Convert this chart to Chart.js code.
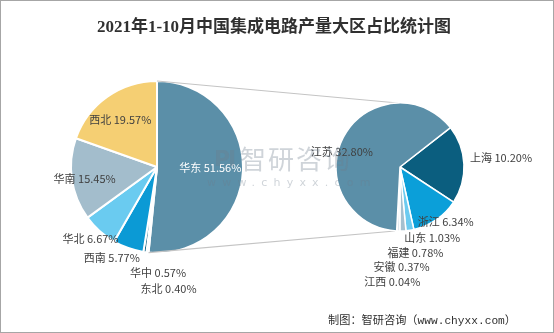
<!DOCTYPE html>
<html><head><meta charset="utf-8">
<script src="https://cdn.jsdelivr.net/npm/chart.js@4/dist/chart.umd.min.js"></script>
<style>
html,body{margin:0;padding:0;background:#fff;}
#wrap{position:relative;width:554px;height:333px;overflow:hidden;background:#fff;}
canvas{position:absolute;left:0;top:0;}
#frame{position:absolute;left:0;top:0;width:552px;height:331px;border:1px solid #a6a6a6;pointer-events:none;}
#title{position:absolute;left:0;top:12px;width:548px;text-align:center;line-height:24px;font:bold 17px "Liberation Serif","Noto Sans CJK SC";color:#303030;}
#footer{position:absolute;right:38px;top:311px;line-height:14px;font:11.2px "Liberation Mono","Noto Sans CJK SC";color:#303030;}
.wm{position:absolute;color:rgba(110,125,140,0.33);pointer-events:none;white-space:nowrap;}
</style>
</head><body>
<div id="wrap">
<canvas id="c1" width="554" height="333"></canvas>
<canvas id="c2" width="554" height="333"></canvas>
<div class="wm" style="left:214px;top:146px;font:bold 22px 'DejaVu Sans';letter-spacing:-2px;">PI</div>
<div class="wm" style="left:240px;top:144px;font:26px 'Noto Sans CJK SC';line-height:28px;letter-spacing:2px;">智研咨询</div>
<div class="wm" style="left:207px;top:176px;font:11px 'DejaVu Sans';letter-spacing:6.2px;">www.chyxx.com</div>
<div id="title">2021年1-10月中国集成电路产量大区占比统计图</div>
<div id="footer">制图：智研咨询（www.chyxx.com）</div>
<div id="frame"></div>
</div>
<script>
// ---- data ----
const leftCategories = ['华东','东北','华中','西南','华北','华南','西北'];
const leftValues = [51.56, 0.40, 0.57, 5.77, 6.67, 15.45, 19.57];
const rightCategories = ['上海','浙江','山东','福建','安徽','江西','江苏'];
const rightValues = [10.20, 6.34, 1.03, 0.78, 0.37, 0.04, 32.80];

// ---- styles ----
const leftColors = ['#5b8fa8','#a3bdcc','#0b5e7f','#0b9ad5','#6acbf0','#a3bdcc','#f5cf73'];
const rightColors = ['#0b5e7f','#0b9fd9','#6ccbf0','#a5c0cf','#dfe8ee','#f5cf73','#5b8fa8'];
// label placement: [radius factor, dx, dy]
const leftLabelPos = [[0.62,0,-2],[1.41,25,1],[1.23,16,1],[1.12,-13,0],[1.14,-1,-1],[0.85,0,1.5],[0.70,-2,2]];
const rightLabelPos = [[1.58,0,-5],[1.09,6,-3],[1.125,21,0],[1.34,11.5,0],[1.56,4,0],[1.8,-2,0],[0.9,-7,11]];
const leftLabelColors = ['#ffffff','#404040','#404040','#404040','#404040','#404040','#404040'];

function labelPlugin(cats, vals, pos, colors) {
  return {
    id: 'sliceLabels',
    afterDatasetsDraw(chart) {
      const ctx = chart.ctx;
      const meta = chart.getDatasetMeta(0);
      ctx.save();
      ctx.font = '11px "Noto Sans CJK SC", "Noto Sans", sans-serif';
      ctx.textAlign = 'center';
      ctx.textBaseline = 'middle';
      meta.data.forEach((arc, i) => {
        const p = arc.getProps(['x','y','startAngle','endAngle','outerRadius'], true);
        const mid = (p.startAngle + p.endAngle) / 2;
        const d = p.outerRadius * pos[i][0];
        const x = p.x + Math.cos(mid) * d + pos[i][1];
        const y = p.y + Math.sin(mid) * d + pos[i][2];
        ctx.fillStyle = colors ? colors[i] : '#404040';
        ctx.fillText(cats[i] + ' ' + vals[i].toFixed(2) + '%', x, y);
      });
      ctx.restore();
    }
  };
}

const baseOpts = {
  responsive: false,
  animation: false,
  events: [],
  plugins: { legend: { display: false }, tooltip: { enabled: false }, title: { display: false } }
};

const chart1 = new Chart(document.getElementById('c1'), {
  type: 'pie',
  data: { labels: leftCategories, datasets: [{ data: leftValues, backgroundColor: leftColors, borderColor: '#ffffff', borderWidth: 2 }] },
  options: Object.assign({}, baseOpts, {
    rotation: 0,
    radius: 86,
    layout: { padding: { left: 0, right: 240, top: 1, bottom: 0 } }
  }),
  plugins: [labelPlugin(leftCategories, leftValues, leftLabelPos, leftLabelColors)]
});

const connectorPlugin = {
  id: 'connectors',
  beforeDatasetsDraw(chart) {
    const a = chart1.getDatasetMeta(0).data[0].getProps(['x','y','startAngle','endAngle','outerRadius'], true);
    const b = chart.getDatasetMeta(0).data[0].getProps(['x','y','outerRadius'], true);
    const ctx = chart.ctx;
    ctx.save();
    ctx.strokeStyle = '#c4c4c4';
    ctx.lineWidth = 1.2;
    ctx.beginPath();
    ctx.moveTo(a.x + Math.cos(a.startAngle) * a.outerRadius, a.y + Math.sin(a.startAngle) * a.outerRadius);
    ctx.lineTo(b.x - 2, b.y - b.outerRadius);
    ctx.moveTo(a.x + Math.cos(a.endAngle) * a.outerRadius, a.y + Math.sin(a.endAngle) * a.outerRadius);
    ctx.lineTo(b.x - 5, b.y + b.outerRadius);
    ctx.stroke();
    ctx.restore();
  }
};

const chart2 = new Chart(document.getElementById('c2'), {
  type: 'pie',
  data: { labels: rightCategories, datasets: [{ data: rightValues, backgroundColor: rightColors, borderColor: '#ffffff', borderWidth: 1.5 }] },
  options: Object.assign({}, baseOpts, {
    rotation: 52,
    radius: 64,
    layout: { padding: { left: 246, right: 0, top: 1, bottom: 0 } }
  }),
  plugins: [connectorPlugin, labelPlugin(rightCategories, rightValues, rightLabelPos, null)]
});
</script>
</body></html>
